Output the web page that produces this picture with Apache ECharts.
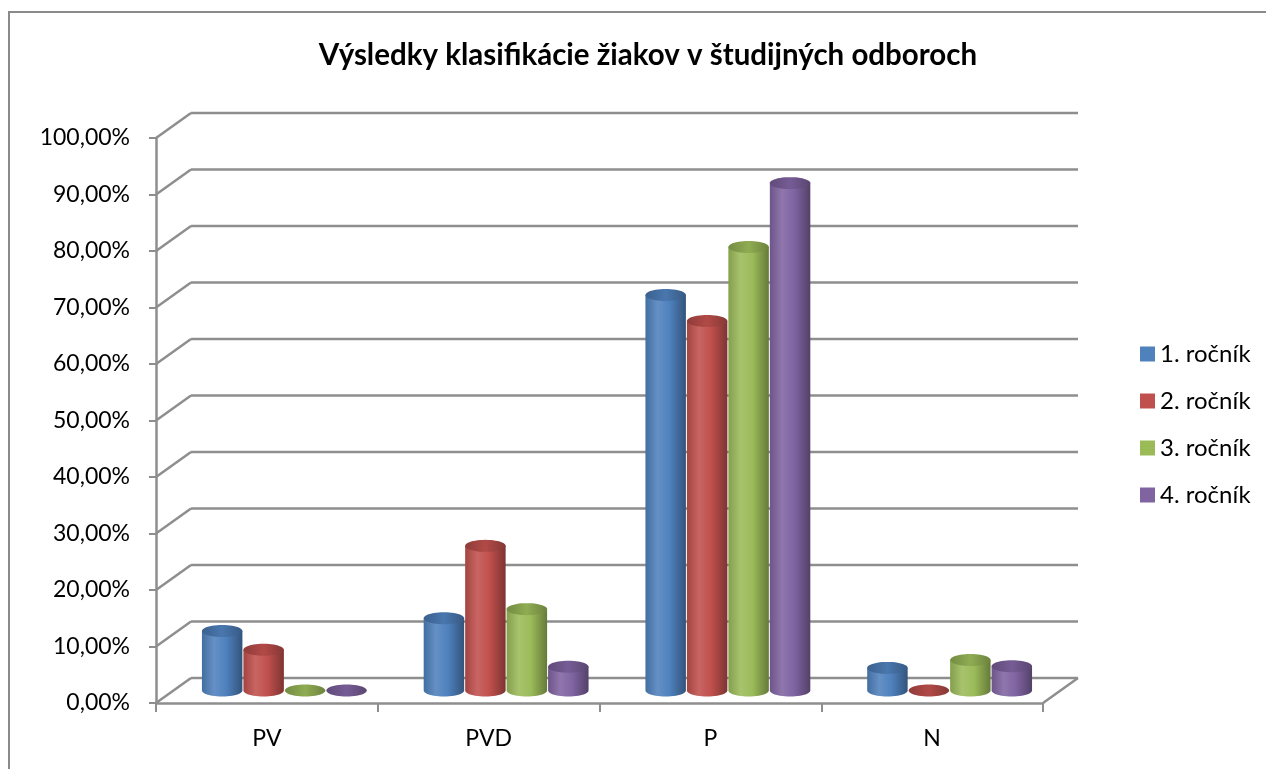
<!DOCTYPE html>
<html>
<head>
<meta charset="utf-8">
<script src="https://cdn.jsdelivr.net/npm/echarts@6/dist/echarts.min.js"></script>
<style>
  html, body { margin: 0; padding: 0; background: #fff; }
  #chart { width: 1266px; height: 769px; }
</style>
</head>
<body>
<div id="chart"></div>
<script>
// kategórie a hodnoty (podiel žiakov)
const categories = ['PV', 'PVD', 'P', 'N'];
const seriesNames = ['1. ročník', '2. ročník', '3. ročník', '4. ročník'];
const rocnik1 = [0.1053, 0.128, 0.700, 0.040];
const rocnik2 = [0.072, 0.256, 0.654, 0.0];
const rocnik3 = [0.0, 0.144, 0.785, 0.054];
const rocnik4 = [0.0, 0.042, 0.898, 0.043];
const yTicks = [0, 0.1, 0.2, 0.3, 0.4, 0.5, 0.6, 0.7, 0.8, 0.9, 1];
const colors = ['#4F81BD', '#C0504D', '#9BBB59', '#8064A2'];

const chart = echarts.init(document.getElementById('chart'));

// hĺbka 3D podlahy (px)
const DX = 35, DY = -25;
const FONT = 'Lato, "Open Sans", sans-serif';

function shade(hex, f) {
  let r = parseInt(hex.slice(1, 3), 16), g = parseInt(hex.slice(3, 5), 16), b = parseInt(hex.slice(5, 7), 16);
  const m = c => Math.max(0, Math.min(255, Math.round(f >= 0 ? c + (255 - c) * f : c * (1 + f))));
  return 'rgb(' + m(r) + ',' + m(g) + ',' + m(b) + ')';
}

function ellipsePts(cx, cy, rx, ry, from, to, n) {
  const pts = [];
  for (let i = 0; i <= n; i++) {
    const a = from + (to - from) * i / n;
    pts.push([cx + rx * Math.cos(a), cy + ry * Math.sin(a)]);
  }
  return pts;
}

// valec pre jednu sériu
function cylinder(si) {
  return function (params, api) {
    const cat = api.value(0), val = api.value(1);
    const base = api.coord([cat, 0]);
    const top = api.coord([cat, val]);
    const catW = api.size([1, 0])[0];
    const bw = catW * 0.187;
    const cx = base[0] + (si - 1.5) * bw + DX / 2;
    const yb = base[1] + DY / 2, yt = top[1] + DY / 2;
    const rx = bw / 2 - 0.5, ry = 6;
    const c = colors[si];
    // telo: ľavá hrana, spodná polelipsa, pravá hrana
    const bodyPoly = [[cx - rx, yt]];
    for (let i = 0; i <= 24; i++) {
      const a = Math.PI - Math.PI * i / 24;
      bodyPoly.push([cx + rx * Math.cos(a), yb + ry * Math.sin(a)]);
    }
    bodyPoly.push([cx + rx, yt]);
    const grad = new echarts.graphic.LinearGradient(0, 0, 1, 0, [
      { offset: 0, color: shade(c, -0.15) },
      { offset: 0.3, color: shade(c, 0.12) },
      { offset: 0.6, color: shade(c, 0.0) },
      { offset: 1, color: shade(c, -0.35) }
    ]);
    const children = [];
    if (yb - yt > 0.5) {
      children.push({ type: 'polygon', shape: { points: bodyPoly }, style: { fill: grad } });
    }
    children.push({
      type: 'polygon',
      shape: { points: ellipsePts(cx, yt, rx, ry, 0, Math.PI * 2, 48) },
      style: { fill: new echarts.graphic.LinearGradient(0, 0, 1, 0, [
        { offset: 0, color: shade(c, -0.25) },
        { offset: 0.5, color: shade(c, -0.08) },
        { offset: 1, color: shade(c, -0.3) }
      ]) }
    });
    return { type: 'group', children: children };
  };
}

// zadná stena, ľavá stena a podlaha
function wall(params, api) {
  const cs = params.coordSys;
  const v = api.value(1);
  const y = api.coord([0, v])[1];
  const st = { stroke: '#8e8e8e', lineWidth: 2.5 };
  const ch = [
    { type: 'line', shape: { x1: cs.x, y1: y, x2: cs.x + DX, y2: y + DY }, style: st },
    { type: 'line', shape: { x1: cs.x + DX, y1: y + DY, x2: cs.x + cs.width + DX, y2: y + DY }, style: st }
  ];
  if (v === 0) {
    ch.push({ type: 'line', shape: { x1: cs.x + cs.width, y1: y, x2: cs.x + cs.width + DX, y2: y + DY }, style: st });
  }
  return { type: 'group', children: ch };
}

const values = [rocnik1, rocnik2, rocnik3, rocnik4];
const series = [{
  type: 'custom',
  name: 'wall',
  renderItem: wall,
  data: yTicks.map(v => [0, v]),
  clip: false,
  silent: true,
  z: 1
}];
values.forEach((arr, si) => {
  series.push({
    type: 'custom',
    name: seriesNames[si],
    renderItem: cylinder(si),
    itemStyle: { color: colors[si] },
    data: arr.map((v, i) => [i, v]),
    clip: false,
    z: 3
  });
});

const option = {
  animation: false,
  title: {
    text: 'Výsledky klasifikácie žiakov v študijných odboroch',
    left: 643,
    textAlign: 'center',
    top: 35,
    textStyle: { fontFamily: FONT, fontSize: 29.5, fontWeight: 'bold', color: '#000' }
  },
  graphic: [{
    type: 'rect',
    shape: { x: 9, y: 12, width: 1300, height: 800 },
    style: { fill: 'none', stroke: '#8a8a8a', lineWidth: 2 },
    silent: true
  }],
  legend: {
    data: seriesNames,
    orient: 'vertical',
    left: 1135,
    top: 337,
    icon: 'rect',
    itemWidth: 15,
    itemHeight: 15,
    itemGap: 23,
    textStyle: { fontFamily: FONT, fontSize: 24, color: '#000' }
  },
  grid: { left: 156, right: 223, top: 138, bottom: 66 },
  xAxis: {
    type: 'category',
    data: categories,
    axisLine: { lineStyle: { color: '#8e8e8e', width: 2.5 } },
    axisTick: { show: true, length: 9, lineStyle: { color: '#8e8e8e', width: 2 } },
    axisLabel: { fontFamily: FONT, fontSize: 23, color: '#000', margin: 24 }
  },
  yAxis: {
    type: 'value',
    min: 0,
    max: 1,
    interval: 0.1,
    splitLine: { show: false },
    axisLine: { show: true, lineStyle: { color: '#8e8e8e', width: 2.5 } },
    axisTick: { show: true, length: 7, lineStyle: { color: '#8e8e8e', width: 2 } },
    axisLabel: {
      fontFamily: FONT, fontSize: 23, color: '#000', margin: 26,
      formatter: v => (v * 100).toFixed(2).replace('.', ',') + '%'
    }
  },
  series: series
};

chart.setOption(option);
</script>
</body>
</html>
